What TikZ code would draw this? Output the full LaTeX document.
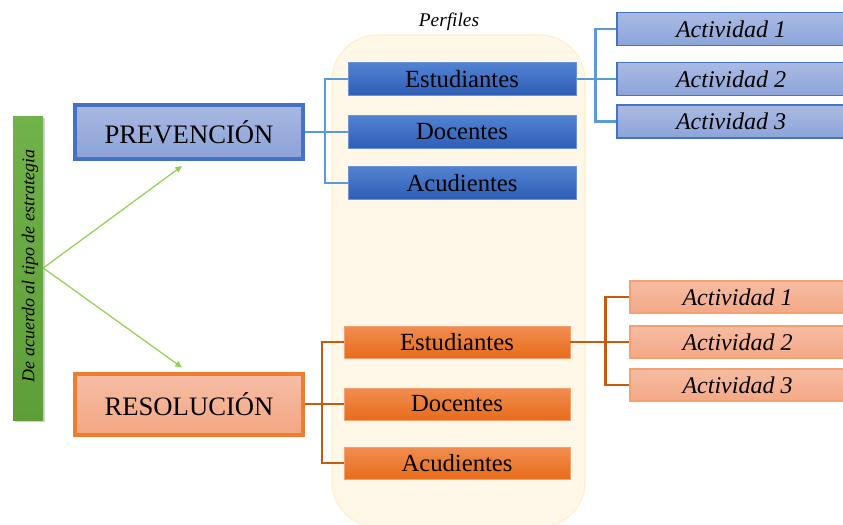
\documentclass[tikz,border=0pt]{standalone}
\usepackage{fontspec}
\setmainfont{Liberation Serif}
\usetikzlibrary{shadows,arrows.meta}
\definecolor{bborder}{HTML}{4472C4}
\definecolor{bline}{HTML}{5B9BD5}
\definecolor{oborder}{HTML}{ED7D31}
\definecolor{oline}{HTML}{C55A11}
\definecolor{gline}{HTML}{92D050}
\definecolor{perfbg}{HTML}{FFF8E8}
\definecolor{perfbd}{HTML}{FFEFC8}
\definecolor{prevtop}{HTML}{A8B8E1}
\definecolor{prevbot}{HTML}{8CA3D8}
\definecolor{restop}{HTML}{F6BEA6}
\definecolor{resbot}{HTML}{F4A682}
\definecolor{bprofbd}{HTML}{6E93D6}
\definecolor{bproftop}{HTML}{5283D2}
\definecolor{bprofbot}{HTML}{2E5DB6}
\definecolor{oprofbd}{HTML}{F4A070}
\definecolor{oproftop}{HTML}{F18D50}
\definecolor{oprofbot}{HTML}{E86C1A}
\definecolor{bacttop}{HTML}{A9BAE3}
\definecolor{bactbot}{HTML}{8DA4D9}
\definecolor{oacttop}{HTML}{F6BCA2}
\definecolor{oactbot}{HTML}{F4A886}
\definecolor{greentop}{HTML}{72B24A}
\definecolor{greenbot}{HTML}{5E9E38}
\tikzset{
  mainbox/.style={draw, line width=3pt, minimum width=171pt, inner sep=0pt, font=\fontsize{20}{24}\selectfont},
  prevbox/.style={mainbox, draw=bborder, top color=prevtop, bottom color=prevbot},
  resbox/.style={mainbox, draw=oborder, top color=restop, bottom color=resbot},
  profbox/.style={inner sep=0pt, font=\fontsize{18.5}{22}\selectfont, line width=0.6pt},
  bprof/.style={profbox, draw=bprofbd, top color=bproftop, bottom color=bprofbot, minimum width=171pt, minimum height=24.75pt},
  oprof/.style={profbox, draw=oprofbd, top color=oproftop, bottom color=oprofbot, minimum width=169.5pt, minimum height=24pt},
  actbox/.style={inner sep=0pt, font=\itshape\fontsize{18}{22}\selectfont, line width=0.8pt},
  bact/.style={actbox, draw=bborder, top color=bacttop, bottom color=bactbot, minimum width=171pt, minimum height=24.75pt},
  oact/.style={actbox, draw=oprofbd, top color=oacttop, bottom color=oactbot, minimum width=161.25pt, minimum height=24pt},
  bconn/.style={draw=bline, line width=1.6pt},
  oconn/.style={draw=oline, line width=1.6pt},
  garrow/.style={draw=gline, line width=0.9pt, -{Triangle[length=5pt,width=4.5pt]}},
}
\begin{document}
\begin{tikzpicture}[x=0.75pt,y=-0.75pt]
\useasboundingbox (0,0) rectangle (843,525);
\begin{scope}
\clip (0,0) rectangle (843,525);
% Perfiles background
\draw[fill=perfbg, draw=perfbd, line width=0.8pt, rounded corners=34pt] (332,35) rectangle (585,527);
\node[font=\itshape\fontsize{14.5}{17}\selectfont] (perf) at (449,22) {Perfiles};

% green bar
\node[top color=greentop, bottom color=greenbot, minimum width=22.5pt, minimum height=228pt, inner sep=0pt,
      drop shadow={shadow xshift=1.5pt, shadow yshift=-1.5pt, opacity=0.35}] (green) at (28,268) {};
\node[rotate=90, font=\itshape\fontsize{13.5}{16}\selectfont] (gtext) at (30,266) {De acuerdo al tipo de estrategia};

% main boxes
\node[prevbox, minimum height=40.5pt] (prev) at (189,132) {PREVENCIÓN};
\node[resbox, minimum height=45.75pt] (res) at (189,404) {RESOLUCIÓN};

% green arrows
\draw[garrow] (green.east) -- ([shift={(-7,5)}]prev.south);
\draw[garrow] (green.east) -- ([shift={(-7,-4)}]res.north);

% blue profiles
\node[bprof] (pe) at (462,79) {Estudiantes};
\node[bprof] (pd) at (462,132) {Docentes};
\node[bprof] (pa) at (462,183) {Acudientes};

% blue activities
\node[bact] (a1) at (731,29) {Actividad 1};
\node[bact] (a2) at (731,79) {Actividad 2};
\node[bact] (a3) at (731,121.5) {Actividad 3};

% orange profiles
\node[oprof] (oe) at (457,342) {Estudiantes};
\node[oprof] (od) at (457,404) {Docentes};
\node[oprof] (oa) at (457,463) {Acudientes};

% orange activities
\node[oact] (b1) at (737.5,297) {Actividad 1};
\node[oact] (b2) at (737.5,342) {Actividad 2};
\node[oact] (b3) at (737.5,385) {Actividad 3};

% blue connectors
\draw[bconn] (prev.east) -- (pd.west);
\draw[bconn] (pe.west) -- ++(-23,0) |- (pa.west);
\draw[bconn] (pe.east) -- (a2.west);
\draw[bconn] (a1.west) -- ++(-21,0) |- (a3.west);

% orange connectors
\draw[oconn] (res.east) -- (od.west);
\draw[oconn] (oe.west) -- ++(-22,0) |- (oa.west);
\draw[oconn] (oe.east) -- (b2.west);
\draw[oconn] (b1.west) -- ++(-24,0) |- (b3.west);
\end{scope}
\end{tikzpicture}
\end{document}
